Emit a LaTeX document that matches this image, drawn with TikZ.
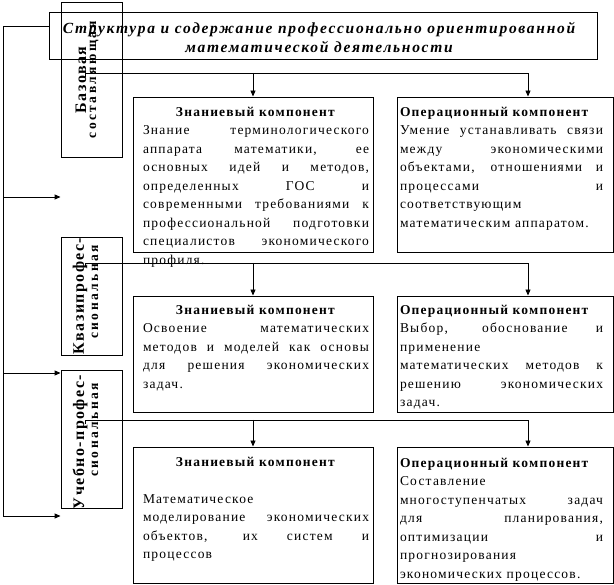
\documentclass[tikz,border=0pt]{standalone}
\usepackage{fontspec}
\setmainfont{Liberation Serif}[LetterSpace=9]
\newfontfamily\ttlfont{Liberation Serif}[LetterSpace=11]
\newfontfamily\widefont{Liberation Serif}[LetterSpace=18]
\usetikzlibrary{arrows.meta}
\tolerance=10000
\hyphenpenalty=10000
\hbadness=10000
\newcommand{\khead}[1]{\noindent\hfill\strut\textbf{#1}\hfill\null\par\noindent\ignorespaces}
\newcommand{\ohead}[1]{\noindent\strut\textbf{#1}\par\noindent\ignorespaces}
\begin{document}
\begin{tikzpicture}[x=1pt,y=-1pt,
  box/.style={draw, line width=0.9pt, inner sep=0pt},
  ln/.style={line width=0.9pt},
  arr/.style={ln, -{Triangle[length=6pt,width=5pt]}},
  body/.style={anchor=north, inner sep=0pt, align=justify, font=\fontsize{13.5}{18.5}\selectfont},
  vlab/.style={rotate=90, inner sep=0pt, font=\bfseries\fontsize{16}{16}\selectfont},
  vlab2/.style={rotate=90, inner sep=0pt, font=\widefont\bfseries\fontsize{13.5}{13.5}\selectfont}]
\useasboundingbox (0,0) rectangle (614,585);

% title
\node[box, minimum width=548pt, minimum height=47pt] (title) at (323,35.5) {};
\node[anchor=north, inner sep=0pt, align=center, font=\ttlfont\bfseries\itshape\fontsize{15.5}{19}\selectfont] (tt) at (319,19.7)
  {\strut Структура и содержание профессионально ориентированной\\математической деятельности};

% left boxes
\node[box, minimum width=61pt, minimum height=155pt] (b1) at (91.5,79.5) {};
\node[vlab] (b1a) at (81,80) {Базовая};
\node[vlab2] (b1b) at (94,80) {составляющая};

\node[box, minimum width=61pt, minimum height=118pt] (b2) at (91.5,296) {};
\node[vlab] (b2a) at (80,296) {Квазипрофес-};
\node[vlab2] (b2b) at (95,292) {сиональная};

\node[box, minimum width=61pt, minimum height=138pt] (b3) at (91.5,439) {};
\node[vlab] (b3a) at (80,442) {Учебно-профес-};
\node[vlab2] (b3b) at (95,430) {сиональная};

% row 1
\node[box, minimum width=240pt, minimum height=155pt] (k1) at (253,174.5) {};
\node[box, minimum width=216pt, minimum height=155pt] (o1) at (505,174.5) {};
\node[body, text width=226pt] (k1t) at (256,103)
  {\khead{Знаниевый компонент}
   Знание терминологического\linebreak аппарата математики, ее\linebreak основных идей и методов,\linebreak определенных ГОС и\linebreak современными требованиями к\linebreak профессиональной подготовки\linebreak специалистов экономического\linebreak профиля.};
\node[body, text width=203pt] (o1t) at (501.5,103)
  {\ohead{Операционный компонент}
   Умение устанавливать связи\linebreak между экономическими\linebreak объектами, отношениями и\linebreak процессами и\linebreak соответствующим\linebreak математическим аппаратом.};

% row 2
\node[box, minimum width=240pt, minimum height=116pt] (k2) at (253,354) {};
\node[box, minimum width=216pt, minimum height=116pt] (o2) at (505,354) {};
\node[body, text width=226pt] (k2t) at (256,301)
  {\khead{Знаниевый компонент}
   Освоение математических\linebreak методов и моделей как основы\linebreak для решения экономических\linebreak задач.};
\node[body, text width=203pt] (o2t) at (501.5,301)
  {\ohead{Операционный компонент}
   Выбор, обоснование и\linebreak применение\linebreak математических методов к\linebreak решению экономических\linebreak задач.};

% row 3
\node[box, minimum width=240pt, minimum height=136pt] (k3) at (253,515) {};
\node[box, minimum width=216pt, minimum height=136pt] (o3) at (505,515) {};
\node[body, text width=226pt] (k3t) at (256,453)
  {\khead{Знаниевый компонент}\strut\par\noindent
   Математическое\linebreak моделирование экономических\linebreak объектов, их систем и\linebreak процессов};
\node[body, text width=203pt] (o3t) at (501.5,454)
  {\ohead{Операционный компонент}
   Составление\linebreak многоступенчатых задач\linebreak для планирования,\linebreak оптимизации и\linebreak прогнозирования\linebreak экономических процессов.};

% connectors to components
\coordinate (s1) at (85,77);  \coordinate (j1) at (85,73);
\coordinate (s2) at (85,267); \coordinate (j2) at (85,263);
\coordinate (s3) at (85,424); \coordinate (j3) at (85,420);
\draw[arr] (s1) -- (j1) -| ([xshift=23pt]o1.north);
\draw[arr] (k1.north |- j1) -- (k1.north);
\draw[arr] (s2) -- (j2) -| ([xshift=23pt]o2.north);
\draw[arr] (k2.north |- j2) -- (k2.north);
\draw[arr] (s3) -- (j3) -| ([xshift=23pt]o3.north);
\draw[arr] (k3.north |- j3) -- (k3.north);

% left spine
\coordinate (sp0) at (3,26);
\coordinate (sp1) at (3,197);
\coordinate (sp2) at (3,373);
\coordinate (sp3) at (3,516);
\draw[ln] (title.west |- sp0) -- (sp0) -- (sp3);
\draw[arr] (sp1) -- (sp1 -| b1.west);
\draw[arr] (sp2) -- (sp2 -| b3.west);
\draw[arr] (sp3) -- (sp3 -| b3.west);
\end{tikzpicture}
\end{document}
